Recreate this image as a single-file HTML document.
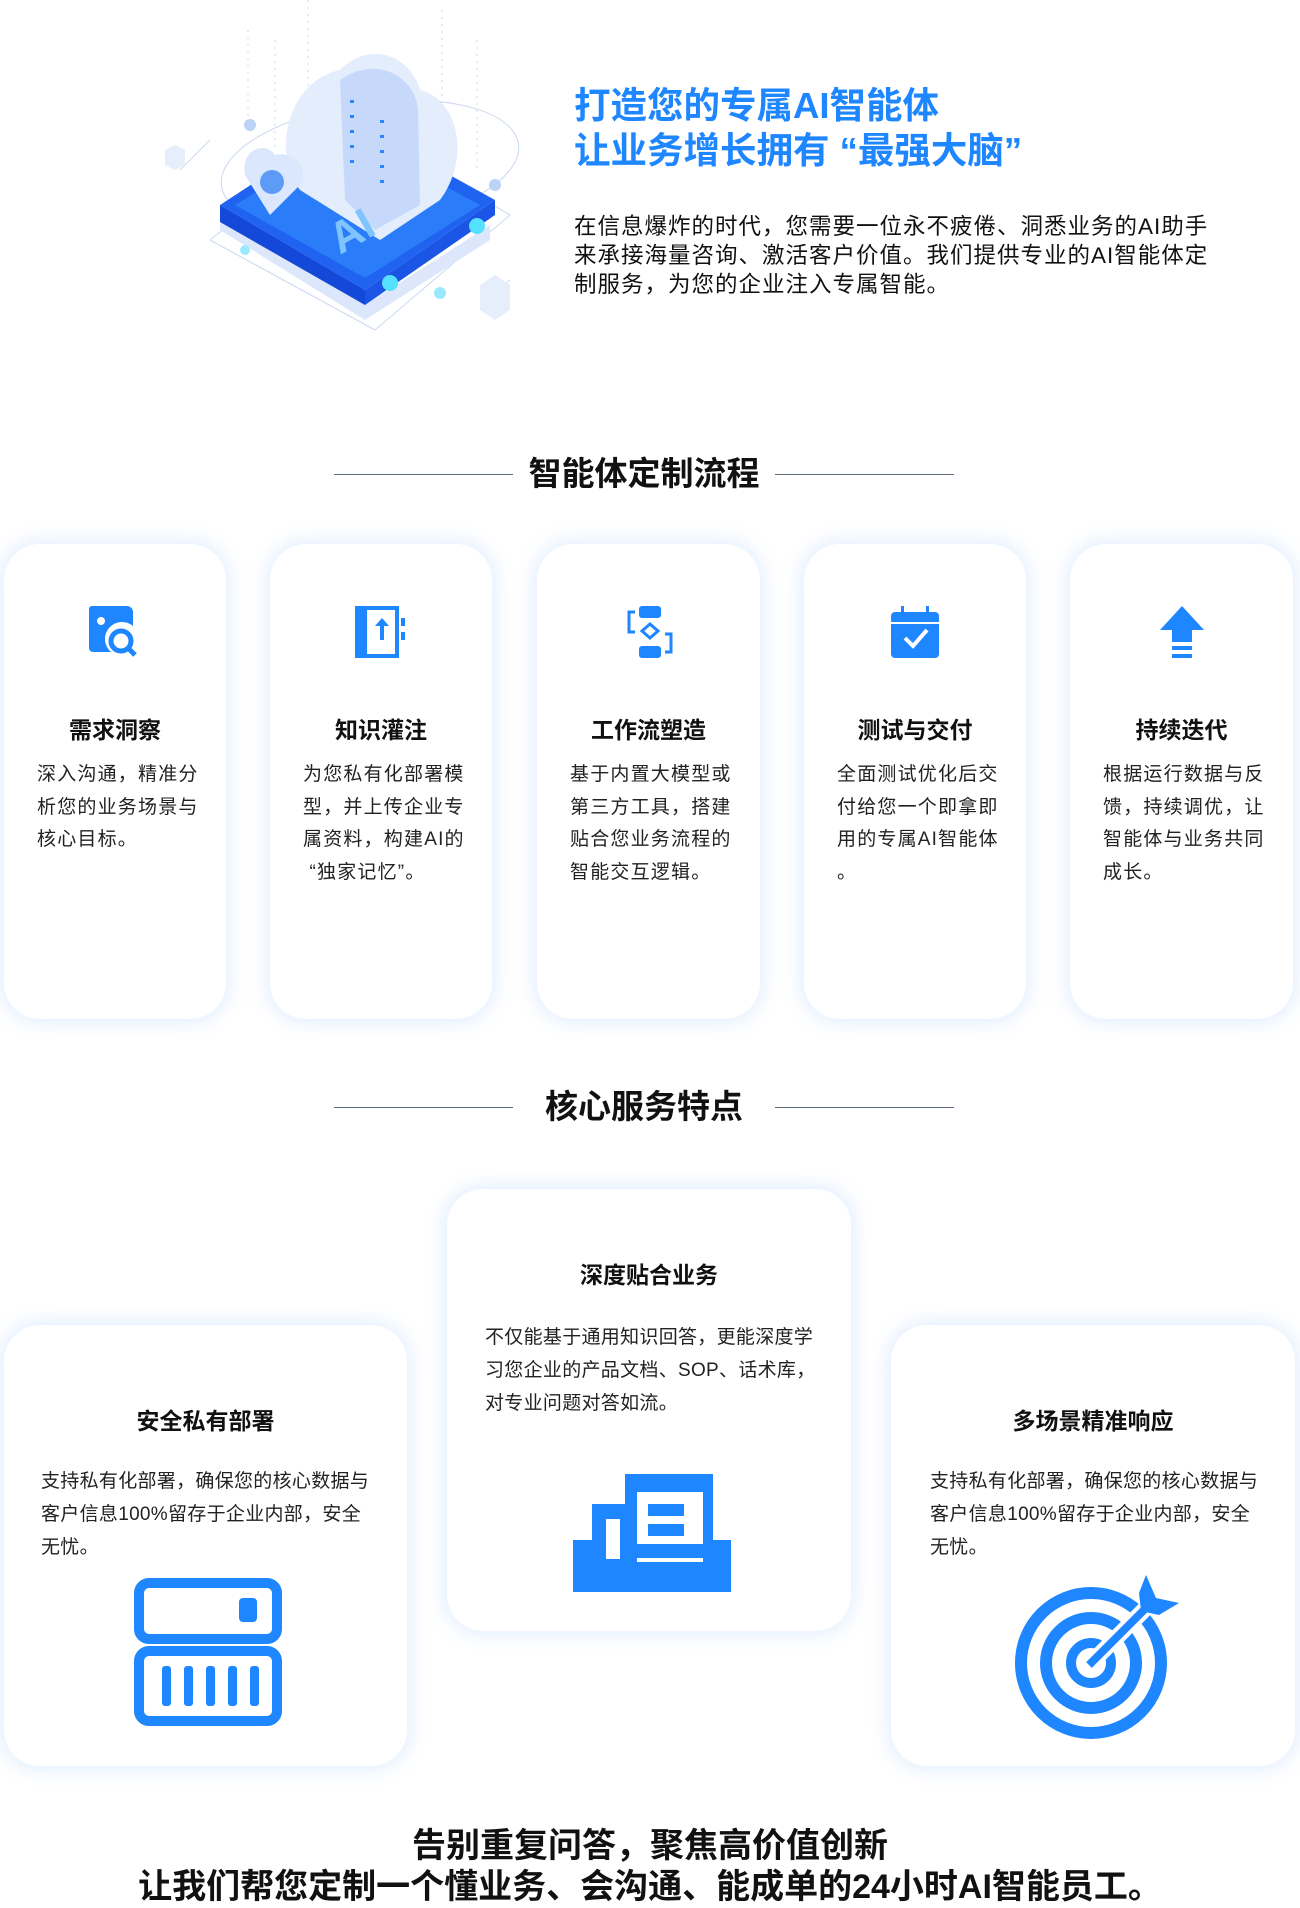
<!DOCTYPE html>
<html><head><meta charset="utf-8">
<style>
*{margin:0;padding:0;box-sizing:border-box}
body{width:1300px;height:1907px;background:#fff;position:relative;overflow:hidden;font-family:"Liberation Sans","Noto Sans CJK SC",sans-serif;color:#111}
.abs{position:absolute}
.h1{left:574px;top:83px;font-size:36.5px;font-weight:700;color:#1e86ff;line-height:45px;white-space:nowrap}
.intro{left:574px;top:212px;font-size:22.5px;line-height:29px;color:#111;white-space:nowrap;letter-spacing:1px}
.sec{font-size:33px;font-weight:700;text-align:center;width:300px;left:494px;line-height:40px}
.line{height:1px;background:#5a6b7d;width:179px}
.card{background:#fff;border-radius:36px;box-shadow:0 0 18px 4px rgba(40,130,255,0.13)}
.ct{position:absolute;left:0;width:100%;text-align:center;font-size:23px;font-weight:700;top:167px}
.cx{position:absolute;left:33px;top:215px;font-size:19px;line-height:32.5px;letter-spacing:1.2px;white-space:nowrap;color:#222}
.ic{position:absolute;left:50%;top:60px;transform:translateX(-50%)}
.st{position:absolute;width:100%;text-align:center;font-size:23px;font-weight:700}
.sx{position:absolute;font-size:19px;line-height:33px;white-space:nowrap;color:#222;letter-spacing:0.3px}
.bot{left:0;width:1300px;text-align:center;font-size:34px;font-weight:700;line-height:41px}
</style></head><body>

<svg class="abs" style="left:150px;top:0" width="380" height="340" viewBox="0 0 380 340">
  <g stroke="#c9d8f2" stroke-width="1" fill="none">
    <line x1="98" y1="30" x2="98" y2="130" stroke-dasharray="2 5"/>
    <line x1="125" y1="40" x2="125" y2="150" stroke-dasharray="2 5"/>
    <line x1="158" y1="0" x2="158" y2="90" stroke-dasharray="2 5"/>
    <line x1="292" y1="10" x2="292" y2="120" stroke-dasharray="2 5"/>
    <line x1="327" y1="40" x2="327" y2="170" stroke-dasharray="2 5"/>
    <ellipse cx="220" cy="165" rx="150" ry="62" transform="rotate(-8 220 165)"/>
    <path d="M60 240 L225 330 L360 215 L205 125 Z"/>
    <path d="M30 170 L60 140 M330 300 L360 280"/>
  </g>
  <path d="M70 215 L215 305 L340 225 L340 240 L215 320 L70 230 Z" fill="#dce7fb"/>
  <path d="M70 205 L200 120 L345 200 L215 290 Z" fill="#1f63f0"/>
  <path d="M70 205 L215 290 L215 305 L70 222 Z" fill="#1348d8"/>
  <path d="M215 290 L345 200 L345 215 L215 305 Z" fill="#1a55e6"/>
  <path d="M85 205 L200 135 L330 205 L215 278 Z" fill="#2a7cf8"/>
  <path d="M150 190 C120 150 140 80 190 70 C220 40 260 55 270 90 C310 100 320 160 290 200 L230 240 Z" fill="#e4edfc"/>
  <path d="M190 80 C225 55 265 75 268 110 L270 205 L225 230 L195 200 Z" fill="#c6d9fb"/>
  <g fill="#2b86ff">
    <rect x="200" y="100" width="4" height="3"/><rect x="200" y="115" width="4" height="3"/><rect x="200" y="130" width="4" height="3"/><rect x="200" y="145" width="4" height="3"/><rect x="200" y="160" width="4" height="3"/>
    <rect x="230" y="120" width="4" height="3"/><rect x="230" y="135" width="4" height="3"/><rect x="230" y="150" width="4" height="3"/><rect x="230" y="165" width="4" height="3"/><rect x="230" y="180" width="4" height="3"/>
  </g>
  <path d="M95 175 C90 150 115 140 125 155 C145 150 160 170 150 185 L120 215 Z" fill="#dbe7fc"/>
  <circle cx="122" cy="182" r="12" fill="#5e9bf7"/>
  <text x="190" y="255" font-size="44" font-weight="700" fill="#7fc3ff" font-family="Liberation Sans" transform="rotate(-30 190 255)">AI</text>
  <circle cx="240" cy="283" r="8" fill="#56e0ff"/><circle cx="327" cy="226" r="8" fill="#56e0ff"/>
  <circle cx="95" cy="250" r="5" fill="#9aeaff"/><circle cx="290" cy="293" r="6" fill="#9aeaff"/>
  <circle cx="100" cy="125" r="6" fill="#bcd3f7"/><circle cx="345" cy="185" r="6" fill="#bcd3f7"/>
  <path d="M330 285 L345 275 L360 285 L360 310 L345 320 L330 310 Z" fill="#e6eefc"/>
  <path d="M15 150 L25 145 L35 150 L35 165 L25 170 L15 165 Z" fill="#e6eefc"/>
</svg>

<div class="abs h1">打造您的专属AI智能体<br>让业务增长拥有 “最强大脑”</div>
<div class="abs intro">在信息爆炸的时代，您需要一位永不疲倦、洞悉业务的AI助手<br>来承接海量咨询、激活客户价值。我们提供专业的AI智能体定<br>制服务，为您的企业注入专属智能。</div>

<div class="abs line" style="left:334px;top:474px"></div>
<div class="abs line" style="left:775px;top:474px"></div>
<div class="abs sec" style="top:454px">智能体定制流程</div>

<div class="abs card" style="left:4px;top:544px;width:222px;height:475px">
  <svg class="ic" width="56" height="56" viewBox="0 0 56 56"><path d="M4 2 H40 A6 6 0 0 1 46 8 V22 A16 16 0 0 0 24 48 H6 A4 4 0 0 1 2 44 V6 A4 4 0 0 1 4 2Z" fill="#1e86ff"/><circle cx="14" cy="17" r="4" fill="#fff"/><circle cx="34" cy="37" r="10" fill="none" stroke="#1e86ff" stroke-width="5"/><line x1="41" y1="44" x2="48" y2="51" stroke="#1e86ff" stroke-width="5"/></svg>
  <div class="ct">需求洞察</div>
  <div class="cx">深入沟通，精准分<br>析您的业务场景与<br>核心目标。</div>
</div>
<div class="abs card" style="left:270px;top:544px;width:222px;height:475px">
  <svg class="ic" width="56" height="56" viewBox="0 0 56 56"><rect x="4" y="4" width="40" height="48" fill="none" stroke="#1e86ff" stroke-width="4"/><rect x="4" y="4" width="10" height="48" fill="#1e86ff"/><path d="M29 14 L36 22 H31 V36 H27 V22 H22Z" fill="#1e86ff"/><rect x="48" y="14" width="4" height="8" fill="#1e86ff"/><rect x="48" y="28" width="4" height="8" fill="#1e86ff"/></svg>
  <div class="ct">知识灌注</div>
  <div class="cx">为您私有化部署模<br>型，并上传企业专<br>属资料，构建AI的<br>&nbsp;“独家记忆”。</div>
</div>
<div class="abs card" style="left:537px;top:544px;width:223px;height:475px">
  <svg class="ic" width="56" height="56" viewBox="0 0 56 56"><rect x="18" y="2" width="22" height="12" rx="3" fill="#1e86ff"/><rect x="18" y="42" width="22" height="12" rx="3" fill="#1e86ff"/><path d="M29 20 L37 27 L29 34 L21 27Z" fill="none" stroke="#1e86ff" stroke-width="3"/><path d="M14 8 H8 V28 H14 M44 30 H50 V48 H44" fill="none" stroke="#1e86ff" stroke-width="3"/></svg>
  <div class="ct">工作流塑造</div>
  <div class="cx">基于内置大模型或<br>第三方工具，搭建<br>贴合您业务流程的<br>智能交互逻辑。</div>
</div>
<div class="abs card" style="left:804px;top:544px;width:222px;height:475px">
  <svg class="ic" width="56" height="56" viewBox="0 0 56 56"><rect x="4" y="8" width="48" height="46" rx="4" fill="#1e86ff"/><rect x="4" y="18" width="48" height="2" fill="#fff"/><rect x="14" y="2" width="3" height="10" fill="#1e86ff"/><rect x="39" y="2" width="3" height="10" fill="#1e86ff"/><path d="M18 34 L26 42 L40 26" fill="none" stroke="#fff" stroke-width="4"/></svg>
  <div class="ct">测试与交付</div>
  <div class="cx">全面测试优化后交<br>付给您一个即拿即<br>用的专属AI智能体<br>。</div>
</div>
<div class="abs card" style="left:1070px;top:544px;width:223px;height:475px">
  <svg class="ic" width="56" height="56" viewBox="0 0 56 56"><path d="M28 2 L50 26 H38 V38 H18 V26 H6Z" fill="#1e86ff"/><rect x="18" y="42" width="20" height="4" fill="#1e86ff"/><rect x="18" y="50" width="20" height="4" fill="#1e86ff"/></svg>
  <div class="ct">持续迭代</div>
  <div class="cx">根据运行数据与反<br>馈，持续调优，让<br>智能体与业务共同<br>成长。</div>
</div>

<div class="abs line" style="left:334px;top:1107px"></div>
<div class="abs line" style="left:775px;top:1107px"></div>
<div class="abs sec" style="top:1087px">核心服务特点</div>

<div class="abs card" style="left:4px;top:1325px;width:403px;height:441px">
  <div class="st" style="top:77px">安全私有部署</div>
  <div class="sx" style="left:37px;top:140px">支持私有化部署，确保您的核心数据与<br>客户信息100%留存于企业内部，安全<br>无忧。</div>
  <svg class="abs" style="left:130px;top:253px" width="148" height="148" viewBox="0 0 148 148"><rect x="5" y="5" width="138" height="56" rx="10" fill="none" stroke="#1e86ff" stroke-width="10"/><rect x="105" y="20" width="18" height="24" rx="4" fill="#1e86ff"/><rect x="5" y="73" width="138" height="70" rx="10" fill="none" stroke="#1e86ff" stroke-width="10"/><g fill="#1e86ff"><rect x="28" y="88" width="9" height="40" rx="3"/><rect x="50" y="88" width="9" height="40" rx="3"/><rect x="72" y="88" width="9" height="40" rx="3"/><rect x="94" y="88" width="9" height="40" rx="3"/><rect x="116" y="88" width="9" height="40" rx="3"/></g></svg>
</div>
<div class="abs card" style="left:447px;top:1189px;width:404px;height:442px">
  <div class="st" style="top:67px">深度贴合业务</div>
  <div class="sx" style="left:38px;top:132px">不仅能基于通用知识回答，更能深度学<br>习您企业的产品文档、SOP、话术库，<br>对专业问题对答如流。</div>
  <svg class="abs" style="left:126px;top:285px" width="158" height="118" viewBox="0 0 158 118"><rect x="0" y="66" width="158" height="52" fill="#1e86ff"/><rect x="19" y="30" width="36" height="40" fill="#1e86ff"/><rect x="52" y="0" width="88" height="70" fill="#1e86ff"/><rect x="33" y="45" width="14" height="40" fill="#fff"/><rect x="64" y="18" width="66" height="70" fill="#fff"/><rect x="75" y="30" width="36" height="12" fill="#1e86ff"/><rect x="75" y="50" width="36" height="12" fill="#1e86ff"/><rect x="64" y="70" width="66" height="14" fill="#1e86ff"/></svg>
</div>
<div class="abs card" style="left:891px;top:1325px;width:404px;height:441px">
  <div class="st" style="top:77px">多场景精准响应</div>
  <div class="sx" style="left:39px;top:140px">支持私有化部署，确保您的核心数据与<br>客户信息100%留存于企业内部，安全<br>无忧。</div>
  <svg class="abs" style="left:120px;top:248px" width="170" height="170" viewBox="0 0 170 170"><circle cx="80" cy="90" r="70" fill="none" stroke="#1e86ff" stroke-width="12"/><circle cx="80" cy="90" r="45" fill="none" stroke="#1e86ff" stroke-width="12"/><circle cx="80" cy="90" r="20" fill="none" stroke="#1e86ff" stroke-width="10"/><rect x="75" y="85" width="10" height="10" fill="#fff"/><line x1="78" y1="92" x2="140" y2="30" stroke="#fff" stroke-width="16"/><line x1="78" y1="92" x2="140" y2="30" stroke="#1e86ff" stroke-width="8"/><path d="M128 20 L135 2 L145 25 L168 30 L148 42 L130 38Z" fill="#1e86ff"/></svg>
</div>

<div class="abs bot" style="top:1826px">告别重复问答，聚焦高价值创新</div>
<div class="abs bot" style="top:1867px">让我们帮您定制一个懂业务、会沟通、能成单的24小时AI智能员工。</div>
</body></html>
